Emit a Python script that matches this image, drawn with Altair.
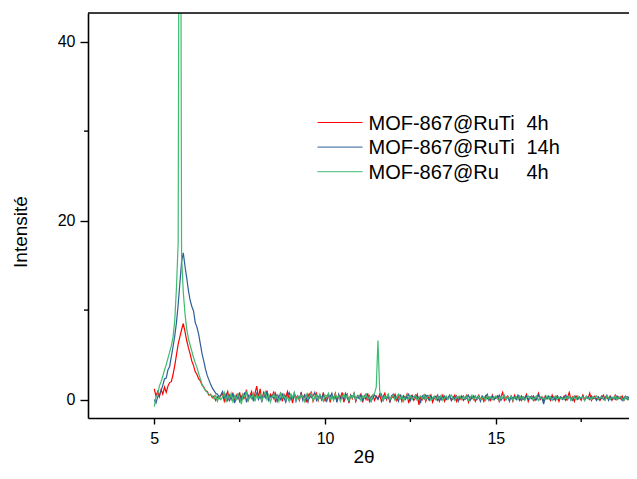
import altair as alt
import pandas as pd

# ---- data ----
X_START = 5.0
X_STEP = 0.05

series_names = ["MOF-867@RuTi  4h", "MOF-867@RuTi  14h", "MOF-867@Ru    4h"]
legend_main = ["MOF-867@RuTi", "MOF-867@RuTi", "MOF-867@Ru"]
legend_suffix = ["4h", "14h", "4h"]
series_colors = ["#FF0000", "#2E5E98", "#3DBB6F"]

# 5.00 .. 6.95
red_peak = [1.2, 0.4, 0.9, 0.3, 1.1, 0.6, 1.4, 0.8, 1.5, 1.9,
            2.0, 2.8, 3.8, 5.0, 6.2, 7.0, 7.8, 8.5, 7.6, 6.6,
            5.8, 5.1, 4.3, 3.8, 3.1, 2.8, 2.3, 2.1, 1.6, 1.4,
            1.0, 0.9, 0.5, 0.6, 0.2, 0.4, -0.1, 0.3, 0.1, 0.5]
blue_peak = [0.0, -0.4, 0.3, 0.5, 1.0, 1.6, 2.3, 2.4, 3.3, 3.7,
             4.8, 5.9, 7.1, 8.6, 10.6, 13.0, 15.4, 16.4, 14.9, 13.6,
             12.2, 11.1, 10.4, 9.9, 8.6, 8.1, 7.3, 6.2, 5.1, 4.3,
             3.4, 2.7, 2.2, 1.7, 1.3, 1.0, 0.7, 0.6, 0.3, 0.5]
green_peak = [-0.8, 0.3, 0.6, 1.5, 2.0, 2.6, 3.3, 3.9, 4.6, 5.3,
              6.0, 7.0, 8.8, 12.5, 17.5, 100.0, 16.0, 12.0, 9.6, 7.9,
              6.8, 6.1, 5.4, 4.7, 4.1, 3.6, 2.9, 2.3, 1.7, 1.3,
              1.0, 0.8, 0.6, 0.5, 0.4, 0.1, 0.5, -0.2, 0.3, 0.0]

# 7.00 .. 18.95
red_base = [0.6, -0.2, 0.4, 0.9, -0.1, 0.3, 0.7, -0.3, 0.5, 0.1,
            0.8, -0.2, 0.6, 0.2, 1.1, -0.1, 0.4, 0.9, 0.0, 0.7,
            1.5, 0.2, 1.2, -0.2, 0.8, 0.4, 1.0, -0.1, 0.6, 0.3,
            0.9, -0.3, 0.5, 0.1, 0.8, -0.2, 0.6, 0.3, 0.9, 0.0,
            0.5, -0.4, 0.7, 0.2, 0.4, -0.1, 0.8, 0.1, 0.5, -0.3,
            0.6, 0.2, 0.9, -0.2, 0.3, 0.7, -0.1, 0.5, 0.0, 0.8,
            -0.2, 0.4, 0.6, -0.3, 0.5, 0.1, 0.7, -0.1, 0.4, 0.2,
            0.8, -0.3, 0.3, 0.6, -0.4, 0.5, 0.1, 0.7, -0.2, 0.4,
            0.2, 0.6, -0.3, 0.4, 0.0, 0.7, -0.2, 0.3, 0.5, -0.1,
            0.4, 0.1, 0.6, -0.2, 0.3, 0.7, 0.0, 0.5, -0.3, 0.4,
            0.2, 0.6, -0.1, 0.3, 0.5, -0.2, 0.4, 0.1, 0.6, -0.4,
            0.3, 0.5, -0.1, 0.2, 0.6, -0.6, 0.3, 0.0, 0.5, -0.2,
            0.4, 0.1, 0.5, -0.3, 0.2, 0.4, -0.1, 0.3, 0.0, 0.5,
            -0.2, 0.3, 0.1, 0.4, -0.1, 0.2, 0.5, -0.2, 0.3, 0.0,
            0.4, -0.1, 0.2, 0.5, -0.3, 0.3, 0.1, 0.4, -0.2, 0.2,
            0.5, 0.0, 0.3, -0.2, 0.4, 0.1, 0.3, -0.1, 0.5, 0.0,
            0.2, 0.4, -0.2, 0.3, 0.8, -0.1, 0.2, 0.4, 0.0, 0.3,
            -0.2, 0.5, 0.1, 0.3, -0.1, 0.4, 0.0, 0.2, 0.6, -0.2,
            0.3, 0.1, 0.4, -0.1, 0.2, 0.7, 0.0, 0.3, -0.2, 0.4,
            0.1, 0.3, -0.1, 0.5, 0.0, 0.2, 0.4, -0.2, 0.3, 0.1,
            0.4, -0.1, 0.2, 0.8, 0.0, 0.3, -0.2, 0.4, 0.1, 0.2,
            -0.1, 0.5, 0.0, 0.3, 0.1, 0.7, -0.1, 0.2, 0.4, 0.0,
            0.3, -0.1, 0.2, 0.5, 0.0, 0.3, 0.1, 0.4, -0.1, 0.2,
            0.5, 0.0, 0.3, 0.1, 0.4, -0.1, 0.2, 0.3, 0.0, 0.2]
blue_base = [0.9, 0.2, 0.6, -0.1, 0.5, 0.0, 0.7, -0.4, 0.3, 0.6,
             -0.2, 0.4, 0.1, 0.8, -0.3, 0.5, 0.2, 0.6, -0.1, 0.3,
             0.7, 0.0, 0.4, -0.2, 0.6, 0.2, 0.9, -0.1, 0.3, 0.5,
             0.1, 0.7, -0.2, 0.4, 0.0, 0.6, 0.2, -0.3, 0.5, 0.8,
             0.0, 0.3, 0.6, -0.2, 0.4, 0.1, 0.7, -0.1, 0.5, 0.2,
             -0.3, 0.6, 0.2, 0.4, 0.8, -0.1, 0.3, 0.5, 0.0, 0.6,
             0.2, -0.2, 0.5, 0.3, 0.7, 0.0, 0.4, -0.3, 0.6, 0.1,
             0.4, 0.0, 0.7, 0.2, -0.2, 0.5, 0.3, 0.6, -0.1, 0.4,
             0.1, 0.5, -0.1, 0.3, 0.6, 0.0, 0.4, -0.2, 0.2, 0.5,
             0.3, 0.0, 0.4, 0.6, -0.1, 0.3, 0.1, 0.5, -0.2, 0.4,
             0.6, 0.1, 0.3, -0.2, 0.5, 0.2, 0.4, 0.0, 0.3, 0.6,
             -0.1, 0.4, 0.2, 0.5, 0.0, 0.3, -0.3, 0.4, 0.1, 0.5,
             0.2, -0.1, 0.4, 0.1, 0.3, 0.0, 0.5, -0.2, 0.3, 0.2,
             0.4, 0.0, 0.2, 0.5, -0.1, 0.3, 0.1, 0.4, -0.2, 0.3,
             0.1, 0.4, 0.0, 0.2, 0.5, -0.1, 0.3, 0.1, 0.4, 0.0,
             0.3, -0.2, 0.4, 0.1, 0.3, 0.6, -0.1, 0.2, 0.4, 0.0,
             0.3, 0.1, 0.5, -0.1, 0.2, 0.4, 0.0, 0.3, -0.2, 0.4,
             0.1, 0.3, 0.0, 0.5, 0.2, -0.1, 0.3, 0.1, 0.4, 0.0,
             0.2, 0.4, -0.1, 0.3, 0.0, 0.5, 0.1, 0.2, -0.5, 0.3,
             0.1, 0.4, 0.0, 0.2, 0.3, -0.1, 0.4, 0.1, 0.3, 0.0,
             0.2, 0.5, 0.0, 0.3, 0.1, -0.1, 0.4, 0.2, 0.0, 0.3,
             0.1, 0.4, -0.1, 0.2, 0.3, 0.0, 0.4, 0.1, 0.2, -0.1,
             0.3, 0.1, 0.4, 0.0, 0.2, 0.5, -0.1, 0.3, 0.1, 0.2,
             0.0, 0.4, 0.1, 0.3, -0.1, 0.2, 0.4, 0.0, 0.3, 0.1]
green_base = [0.3, 0.8, -0.3, 0.5, 0.1, 0.7, -0.2, 0.4, 0.0, 0.6,
              0.2, -0.5, 0.6, 0.3, 0.8, -0.1, 0.4, 0.1, 0.7, -0.2,
              0.5, 0.2, 0.6, -0.1, 0.4, 0.9, 0.0, 0.5, -0.3, 0.3,
              0.6, 0.1, 0.4, -0.2, 0.7, 0.2, 0.5, 0.0, 0.3, -0.2,
              0.6, 0.2, 0.8, -0.1, 0.4, 0.0, 0.5, 0.3, -0.2, 0.6,
              0.1, 0.4, 0.7, -0.1, 0.3, 0.5, 0.0, 0.6, 0.2, -0.2,
              0.5, 0.3, 0.7, 0.0, 0.4, -0.1, 0.6, 0.2, 0.4, -0.2,
              0.3, 0.6, 0.1, 0.5, -0.1, 0.4, 0.2, 0.7, 0.0, 0.3,
              0.5, -0.1, 0.4, 0.2, 0.6, 0.1, 0.3, -0.2, 0.5, 0.7,
              1.4, 6.6, 1.0, 0.3, -0.1, 0.4, 0.2, 0.6, 0.0, 0.3,
              0.5, -0.1, 0.3, 0.6, 0.1, 0.4, -0.2, 0.3, 0.5, 0.1,
              0.4, 0.0, 0.3, 0.5, -0.1, 0.2, 0.4, 0.1, 0.5, 0.0,
              0.3, 0.5, -0.1, 0.2, 0.4, 0.0, 0.3, 0.1, 0.5, -0.1,
              0.2, 0.4, 0.0, 0.3, 0.5, 0.1, -0.1, 0.3, 0.2, 0.4,
              0.0, 0.3, 0.1, 0.4, -0.1, 0.2, 0.5, 0.0, 0.3, 0.1,
              0.4, 0.0, 0.2, 0.3, -0.1, 0.4, 0.1, 0.3, 0.0, 0.2,
              0.4, 0.1, -0.1, 0.3, 0.2, 0.5, 0.0, 0.3, 0.1, 0.4,
              -0.1, 0.2, 0.3, 0.0, 0.4, 0.1, 0.3, -0.1, 0.2, 0.4,
              0.1, 0.3, 0.0, 0.2, 0.4, -0.1, 0.3, 0.1, 0.2, 0.0,
              0.4, 0.1, 0.3, -0.1, 0.2, 0.4, 0.0, 0.3, 0.1, 0.2,
              0.0, 0.3, 0.1, 0.4, -0.1, 0.2, 0.3, 0.0, 0.4, 0.1,
              0.2, 0.3, -0.1, 0.4, 0.1, 0.2, 0.0, 0.3, 0.2, 0.4,
              0.0, 0.2, 0.3, 0.1, -0.1, 0.4, 0.2, 0.0, 0.3, 0.1,
              0.4, 0.0, 0.2, 0.3, 0.1, -0.1, 0.3, 0.2, 0.0, 0.3]

x_major = [5, 10, 15]
x_minor = [7.5, 12.5, 17.5]
y_major = [0, 20, 40]
y_minor = [10, 30]

# ---- build tables ----
all_series = [red_peak + red_base, blue_peak + blue_base, green_peak + green_base]
rows = []
for name, vals in zip(series_names, all_series):
    for i, v in enumerate(vals):
        rows.append({"x": round(X_START + X_STEP * i, 2), "y": v, "series": name})
df = pd.DataFrame(rows)
xminor_df = pd.DataFrame({"x": x_minor})
yminor_df = pd.DataFrame({"y": y_minor})

W, H = 541, 405
FONT = "Liberation Sans"

xscale = alt.Scale(domain=[3.06, 18.90], nice=False, zero=False)
yscale = alt.Scale(domain=[-2.06, 43.2], nice=False, zero=False)
cscale = alt.Scale(domain=series_names, range=series_colors)

xaxis = alt.Axis(
    values=x_major, format="d", tickSize=6,
    title="2θ", titleFontSize=19, titleFontWeight="normal", titleColor="black",
    titleX=275.5, titleY=44, titleAlign="center", titleBaseline="alphabetic",
    labelFontSize=16, labelPadding=6, labelColor="black", labelFlush=False,
    domainColor="black", domainWidth=1.6, tickColor="black", tickWidth=1.4, grid=False,
)
yaxis = alt.Axis(
    values=y_major, format="d", tickSize=8,
    title="Intensité", titleFontSize=19, titleFontWeight="normal", titleColor="black",
    titleAngle=270, titleX=-62, titleY=218.5, titleAlign="center", titleBaseline="alphabetic",
    labelFontSize=16, labelPadding=5, labelColor="black", labelFlush=False,
    domainColor="black", domainWidth=1.6, tickColor="black", tickWidth=1.4, grid=False,
)

layers = []
for k, name in enumerate(series_names):
    layers.append(
        alt.Chart(df).transform_filter(alt.datum.series == name)
        .mark_line(strokeWidth=1.2, clip=True)
        .encode(
            x=alt.X("x:Q", scale=xscale, axis=xaxis),
            y=alt.Y("y:Q", scale=yscale, axis=yaxis),
            color=alt.Color("series:N", scale=cscale, legend=None),
        )
    )

# minor ticks
layers.append(
    alt.Chart(xminor_df).mark_rule(color="black", strokeWidth=1.4)
    .encode(x=alt.X("x:Q", scale=xscale, axis=xaxis), y=alt.value(H), y2=alt.value(H + 4))
)
layers.append(
    alt.Chart(yminor_df).mark_rule(color="black", strokeWidth=1.4)
    .encode(y=alt.Y("y:Q", scale=yscale, axis=yaxis), x=alt.value(-4), x2=alt.value(0))
)

one = pd.DataFrame({"a": [0]})
# top frame line
layers.append(
    alt.Chart(one).mark_rule(color="black", strokeWidth=1.6)
    .encode(x=alt.value(0), x2=alt.value(W), y=alt.value(0))
)

# legend drawn inside the plot
for k in range(3):
    ly = 109.5 + 24.6 * k
    layers.append(
        alt.Chart(one).mark_rule(color=series_colors[k], strokeWidth=1)
        .encode(x=alt.value(229.5), x2=alt.value(274.5), y=alt.value(ly))
    )
    layers.append(
        alt.Chart(one).mark_text(text=legend_main[k], align="left", baseline="middle",
                                 fontSize=20, font=FONT, color="black")
        .encode(x=alt.value(280.5), y=alt.value(ly + 1))
    )
    layers.append(
        alt.Chart(one).mark_text(text=legend_suffix[k], align="left", baseline="middle",
                                 fontSize=20, font=FONT, color="black")
        .encode(x=alt.value(438.5), y=alt.value(ly + 1))
    )

chart = (
    alt.layer(*layers)
    .properties(width=W, height=H,
                padding={"left": 80, "top": 5, "right": 0, "bottom": 50},
                autosize=alt.AutoSizeParams(type="none"))
    .configure_view(stroke=None)
    .configure_axis(labelFont=FONT, titleFont=FONT)
    .configure(background="white")
)

chart.save("out.html", embed_options={"renderer": "svg", "actions": False})
